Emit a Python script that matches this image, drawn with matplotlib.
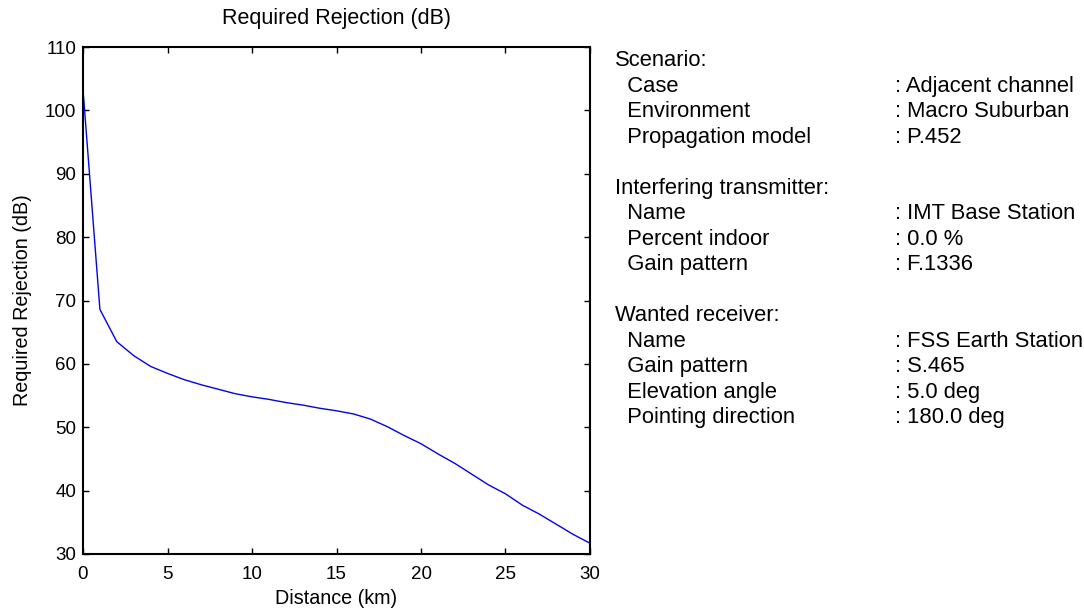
import matplotlib
matplotlib.use("Agg")
import matplotlib.pyplot as plt

plt.rcParams['font.family'] = ['Liberation Sans', 'DejaVu Sans']

# Required rejection versus separation distance
distance_km = [0, 1, 2, 3, 4, 5, 6, 7, 8, 9, 10, 11, 12, 13, 14, 15,
               16, 17, 18, 19, 20, 21, 22, 23, 24, 25, 26, 27, 28, 29, 30]
rejection_db = [103.3, 68.6, 63.5, 61.3, 59.6, 58.5, 57.5, 56.7, 56.0, 55.3,
                54.8, 54.4, 53.9, 53.5, 53.0, 52.6, 52.1, 51.3, 50.1, 48.7,
                47.4, 45.8, 44.3, 42.6, 40.9, 39.5, 37.7, 36.3, 34.7, 33.1, 31.7]

x_ticks = [0, 5, 10, 15, 20, 25, 30]
y_ticks = [30, 40, 50, 60, 70, 80, 90, 100, 110]

# Scenario description panel: (heading/label, value)
panel_rows = [
    ("Scenario:", None),
    ("  Case", ": Adjacent channel"),
    ("  Environment", ": Macro Suburban"),
    ("  Propagation model", ": P.452"),
    ("", None),
    ("Interfering transmitter:", None),
    ("  Name", ": IMT Base Station"),
    ("  Percent indoor", ": 0.0 %"),
    ("  Gain pattern", ": F.1336"),
    ("", None),
    ("Wanted receiver:", None),
    ("  Name", ": FSS Earth Station"),
    ("  Gain pattern", ": S.465"),
    ("  Elevation angle", ": 5.0 deg"),
    ("  Pointing direction", ": 180.0 deg"),
]

W, H = 1084, 610
fig = plt.figure(figsize=(W / 100, H / 100), dpi=100)
ax_left, ax_right, ax_top, ax_bottom = 83, 590, 47, 554
ax_w, ax_h = ax_right - ax_left, ax_bottom - ax_top
ax = fig.add_axes([ax_left / W, 1 - ax_bottom / H, ax_w / W, ax_h / H])

ax.plot(distance_km, rejection_db, color=(0, 0, 1), linewidth=1.0)
ax.set_xlim(0, 30)
ax.set_ylim(30, 110)
ax.set_xticks(x_ticks)
ax.set_yticks(y_ticks)
ax.tick_params(direction='in', length=4, width=1.0, top=True, right=True,
               labelsize=13.5, colors='black')
ax.tick_params(axis='x', pad=8.5)
ax.tick_params(axis='y', pad=5)
for s in ax.spines.values():
    s.set_linewidth(1.5)

ax.set_xlabel("Distance (km)", fontsize=14.2)
ax.xaxis.label.set_va('baseline')
ax.xaxis.set_label_coords(0.5, -(604 - ax_bottom) / ax_h)

ax.set_ylabel("Required Rejection (dB)", fontsize=14.2)
ax.yaxis.set_label_coords(-(ax_left - 32) / ax_w, 0.5)

ax.set_title("Required Rejection (dB)", fontsize=15.5,
             y=1 + (ax_top - 32) / ax_h, va='baseline')

head_x = 615 / W
value_x = 895 / W
base0 = 66.5
row_step = 25.48
for i, (label, value) in enumerate(panel_rows):
    y = 1 - (base0 + i * row_step) / H
    if label:
        fig.text(head_x, y, label, fontsize=15.8, va='baseline', ha='left')
    if value:
        fig.text(value_x, y, value, fontsize=15.8, va='baseline', ha='left')

fig.savefig("out.png", dpi=100)
